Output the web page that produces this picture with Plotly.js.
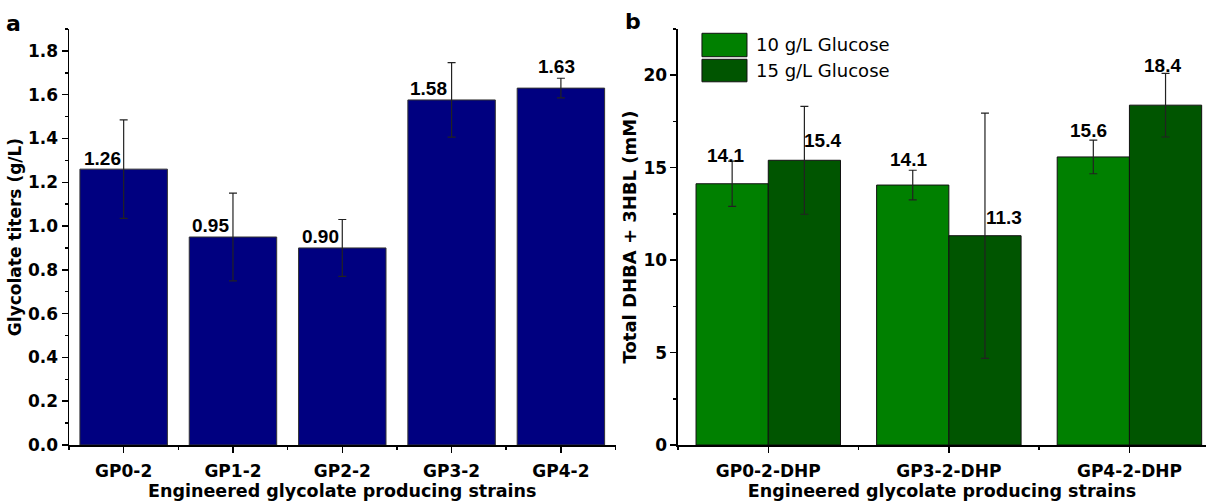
<!DOCTYPE html>
<html>
<head>
<meta charset="utf-8">
<script src="https://cdn.plot.ly/plotly-3.0.1.min.js"></script>
<style>html,body{margin:0;padding:0;background:#fff;}#chart{width:1206px;height:501px;}</style>
</head>
<body>
<div id="chart"></div>
<script>
// ---- data ----
const strainsA = ['GP0-2', 'GP1-2', 'GP2-2', 'GP3-2', 'GP4-2'];
const titersA = [1.26, 0.95, 0.90, 1.576, 1.63];
const titersErrA = [0.225, 0.2, 0.13, 0.17, 0.045];

const strainsB = ['GP0-2-DHP', 'GP3-2-DHP', 'GP4-2-DHP'];
const seriesNamesB = ['10 g/L Glucose', '15 g/L Glucose'];
const glucose10 = [14.13, 14.06, 15.58];
const glucose10Err = [1.22, 0.8, 0.91];
const glucose15 = [15.4, 11.32, 18.38];
const glucose15Err = [2.92, 6.63, 1.72];

// ---- styles ----
const navy = '#000080';
const greens = ['#008000', '#005500'];
const tickFont = {family: 'DejaVu Sans', size: 17, color: '#000', weight: 'bold'};
const titleFont = {family: 'DejaVu Sans', size: 17.5, color: '#000', weight: 'bold'};
const labelFont = {family: 'Liberation Sans', size: 19, color: '#000', weight: 'bold'};
// label offsets in px: [x offset from bar centre, baseline height above bar top]
const labelShiftA = [[-21.5, 3.3], [-22, 4], [-22, 4.4], [-23, 3.7], [-4, 14.4]];
const labelShiftB = [
  [[-6.5, 20.4], [-4.5, 17.6], [-5, 18.7]],
  [[18, 12], [19.5, 10.7], [-3, 32.4]]
];

const idxA = strainsA.map((_, i) => i);
const idxB = strainsB.map((_, i) => i);
const errStyle = {type: 'data', visible: true, color: '#222', thickness: 1.2, width: 4};

const traces = [
  {
    type: 'bar', x: idxA, y: titersA, xaxis: 'x', yaxis: 'y', showlegend: false,
    marker: {color: navy, line: {color: '#333', width: 1}},
    error_y: Object.assign({array: titersErrA}, errStyle), hoverinfo: 'y'
  }
];
const valsB = [glucose10, glucose15];
const errsB = [glucose10Err, glucose15Err];
valsB.forEach((vals, s) => {
  traces.push({
    type: 'bar', x: idxB, y: vals, name: seriesNamesB[s], xaxis: 'x2', yaxis: 'y2', showlegend: false,
    marker: {color: greens[s], line: {color: '#111', width: 1}},
    error_y: Object.assign({array: errsB[s]}, errStyle), hoverinfo: 'y'
  });
});

const annotations = [];
const DESC = 5; // approx descent+pad under baseline
titersA.forEach((v, i) => {
  annotations.push({
    xref: 'x', yref: 'y', x: idxA[i], y: v, text: v.toFixed(2), showarrow: false,
    xanchor: 'center', yanchor: 'bottom', xshift: labelShiftA[i][0], yshift: labelShiftA[i][1] - DESC,
    font: labelFont
  });
});
valsB.forEach((vals, s) => {
  vals.forEach((v, i) => {
    annotations.push({
      xref: 'x2', yref: 'y2', x: idxB[i] + (s === 0 ? -0.2 : 0.2), y: v, text: v.toFixed(1), showarrow: false,
      xanchor: 'center', yanchor: 'bottom', xshift: labelShiftB[s][i][0], yshift: labelShiftB[s][i][1] - DESC,
      font: labelFont
    });
  });
});
// panel letters
annotations.push({xref: 'paper', yref: 'paper', x: -0.0486, y: 1.013, text: 'a', showarrow: false,
  xanchor: 'center', yanchor: 'middle', font: {family: 'DejaVu Sans', size: 22, color: '#000', weight: 'bold'}});
annotations.push({xref: 'paper', yref: 'paper', x: 0.4964, y: 1.018, text: 'b', showarrow: false,
  xanchor: 'center', yanchor: 'middle', font: {family: 'DejaVu Sans', size: 22, color: '#000', weight: 'bold'}});

// legend drawn as patches + text
const legendShapes = [];
const legY = [[0.9334, 0.9897], [0.8731, 0.9272]];
seriesNamesB.forEach((name, s) => {
  legendShapes.push({type: 'rect', xref: 'paper', yref: 'paper', x0: 0.5567, x1: 0.5963,
    y0: legY[s][0], y1: legY[s][1], fillcolor: greens[s], line: {color: '#111', width: 1}});
  annotations.push({xref: 'paper', yref: 'paper', x: 0.6025, y: (legY[s][0] + legY[s][1]) / 2,
    text: name, showarrow: false, xanchor: 'left', yanchor: 'middle',
    font: {family: 'DejaVu Sans', size: 18, color: '#000'}});
});

const axisCommon = {
  showgrid: false, zeroline: false, showline: true, linecolor: '#000', linewidth: 1.5,
  ticks: 'outside', ticklen: 6, tickwidth: 1.5, tickcolor: '#000', tickfont: tickFont, fixedrange: true
};

const layout = {
  width: 1206, height: 501,
  margin: {l: 69, r: 0, t: 29, b: 56},
  paper_bgcolor: '#fff', plot_bgcolor: '#fff',
  barmode: 'group', bargap: 0.2, bargroupgap: 0,
  showlegend: false,
  xaxis: Object.assign({}, axisCommon, {
    domain: [0, 0.4807], anchor: 'y', range: [-0.5, 4.5],
    tickmode: 'array', tickvals: idxA, ticktext: strainsA, ticklabelstandoff: 4,
    minor: {tickmode: 'linear', tick0: 0.5, dtick: 1, ticks: 'outside', ticklen: 3, tickcolor: '#000', tickwidth: 1.5},
    title: {text: 'Engineered glycolate producing strains', font: titleFont, standoff: 2}
  }),
  yaxis: Object.assign({}, axisCommon, {
    domain: [0, 1], anchor: 'x', range: [0, 1.9], dtick: 0.2, tick0: 0, tickformat: '.1f',
    minor: {dtick: 0.1, tick0: 0, ticks: 'outside', ticklen: 3, tickcolor: '#000', tickwidth: 1.5},
    title: {text: 'Glycolate titers (g/L)', font: {family: 'DejaVu Sans', size: 17, color: '#000', weight: 'bold'}, standoff: 2}
  }),
  xaxis2: Object.assign({}, axisCommon, {
    domain: [0.5356, 1], anchor: 'y2', range: [-0.5, 2.424],
    tickmode: 'array', tickvals: idxB, ticktext: strainsB, ticklabelstandoff: 4,
    minor: {tickmode: 'linear', tick0: 0.5, dtick: 1, ticks: 'outside', ticklen: 3, tickcolor: '#000', tickwidth: 1.5},
    title: {text: 'Engineered glycolate producing strains', font: titleFont, standoff: 2}
  }),
  yaxis2: Object.assign({}, axisCommon, {
    domain: [0, 1], anchor: 'x2', range: [0, 22.5], dtick: 5, tick0: 0,
    minor: {dtick: 2.5, tick0: 0, ticks: 'outside', ticklen: 3, tickcolor: '#000', tickwidth: 1.5},
    title: {text: 'Total DHBA + 3HBL (mM)', font: {family: 'DejaVu Sans', size: 18, color: '#000', weight: 'bold'}, standoff: 2}
  }),
  shapes: legendShapes,
  annotations: annotations
};

Plotly.newPlot('chart', traces, layout, {displayModeBar: false, staticPlot: true});
</script>
</body>
</html>
